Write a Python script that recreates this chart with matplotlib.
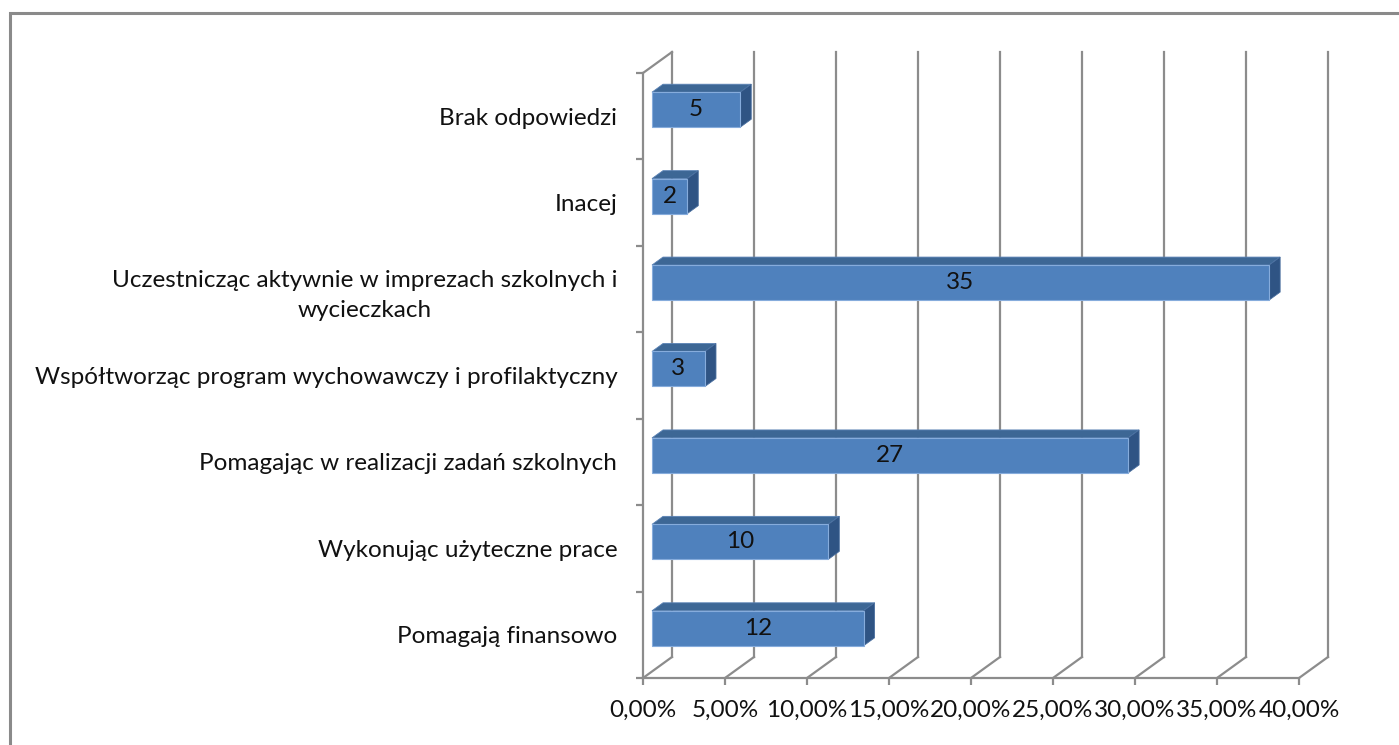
import matplotlib
matplotlib.use("Agg")
import matplotlib.pyplot as plt
from matplotlib.patches import Polygon, Rectangle
import numpy as np

# odpowiedzi od góry do dołu
categories = [
    "Brak odpowiedzi",
    "Inacej",
    "Uczestnicząc aktywnie w imprezach szkolnych i\nwycieczkach",
    "Współtworząc program wychowawczy i profilaktyczny",
    "Pomagając w realizacji zadań szkolnych",
    "Wykonując użyteczne prace",
    "Pomagają finansowo",
]
counts = [5, 2, 35, 3, 27, 10, 12]
percents = [5.38, 2.15, 37.63, 3.23, 29.03, 10.75, 12.90]
x_ticks = [0, 5, 10, 15, 20, 25, 30, 35, 40]

FONT = "Lato"
FS = 17.5
TXT = "#111111"
GRID = "#8c8c8c"
FRONT = "#4f81bd"
TOP = "#3d6795"
SIDE = "#2f5484"

W, H = 1399, 745
fig = plt.figure(figsize=(W / 100, H / 100), dpi=100)
plt.rcParams["font.family"] = [FONT, "DejaVu Sans"]

# przednia płaszczyzna wykresu (piksele)
x0_px, x1_px, yb_px, yt_px = 643, 1299, 678, 73
ax = fig.add_axes([x0_px / W, 1 - yb_px / H, (x1_px - x0_px) / W, (yb_px - yt_px) / H])
ax.set_xlim(0, 40)
ax.set_ylim(-0.5, 6.5)
ax.patch.set_visible(False)

n = len(categories)
px_x = (x1_px - x0_px) / 40
px_y = (yb_px - yt_px) / n
ddx, ddy = 29 / px_x, 21 / px_y  # głębokość 3D

# tylna ściana i podłoga
for t in x_ticks:
    ax.plot([t + ddx] * 2, [-0.5 + ddy, n - 0.5 + ddy], color=GRID, lw=1.6, clip_on=False, zorder=1)
    ax.plot([t, t + ddx], [-0.5, -0.5 + ddy], color=GRID, lw=1.6, clip_on=False, zorder=1)
ax.plot([0, ddx], [n - 0.5, n - 0.5 + ddy], color=GRID, lw=1.6, clip_on=False, zorder=1)

# słupki 3D
d0, d1 = 0.31, 0.69
h = 0.405
ys = np.arange(n)[::-1]
for y, v, c in zip(ys, percents, counts):
    fx, fy = d0 * ddx, d0 * ddy
    bx, by = d1 * ddx, d1 * ddy
    top = [(fx, y + h / 2 + fy), (fx + v, y + h / 2 + fy), (bx + v, y + h / 2 + by), (bx, y + h / 2 + by)]
    side = [(fx + v, y - h / 2 + fy), (fx + v, y + h / 2 + fy), (bx + v, y + h / 2 + by), (bx + v, y - h / 2 + by)]
    ax.add_patch(Polygon(top, closed=True, facecolor=TOP, edgecolor="#5a82b5", lw=0.6, zorder=3, clip_on=False))
    ax.add_patch(Polygon(side, closed=True, facecolor=SIDE, edgecolor="#4a6f9f", lw=0.6, zorder=3, clip_on=False))
    ax.barh(y + fy, v, left=fx, height=h, color=FRONT, edgecolor="#86acdc", lw=0.8, zorder=4, clip_on=False)
    ax.text(fx + v / 2, y + fy, str(c), ha="center", va="center", fontsize=FS, color=TXT, zorder=5)

# osie
for side_name in ["top", "right"]:
    ax.spines[side_name].set_visible(False)
for side_name in ["left", "bottom"]:
    ax.spines[side_name].set_color(GRID)
    ax.spines[side_name].set_linewidth(1.6)

ax.set_xticks(x_ticks)
ax.set_xticklabels([f"{t:.2f}%".replace(".", ",") for t in x_ticks], fontsize=FS, color=TXT)
ax.tick_params(axis="x", length=5, width=1.6, color=GRID, pad=11)

ax.set_yticks(np.arange(-0.5, n, 1))
ax.set_yticklabels([])
ax.tick_params(axis="y", which="major", length=5, width=1.6, color=GRID)
ax.set_yticks(ys, labels=categories, minor=True)
ax.tick_params(axis="y", which="minor", length=0, pad=18.5, labelsize=FS, labelcolor=TXT)
for lab in ax.get_yticklabels(minor=True):
    lab.set_multialignment("center")
    lab.set_linespacing(1.5)

# ramka obszaru wykresu
fig.add_artist(Rectangle((10 / W, -0.1), 1.2, 1 - 13 / H + 0.1, transform=fig.transFigure,
                         fill=False, edgecolor="#8a8a8a", lw=2.2))

fig.savefig("out.png", dpi=100)
